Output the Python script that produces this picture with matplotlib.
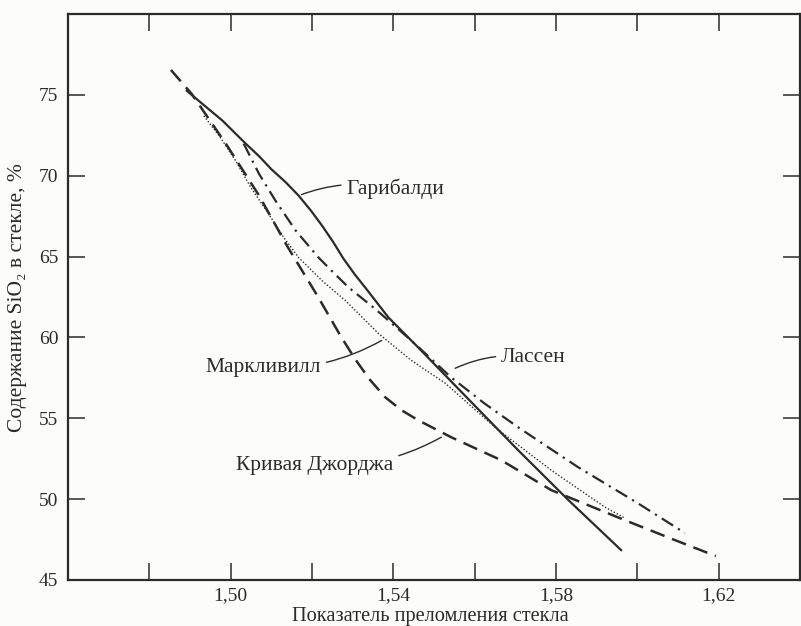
import matplotlib
matplotlib.use("Agg")
from matplotlib import pyplot as plt

plt.rcParams['font.family'] = ['Liberation Serif', 'DejaVu Serif']

# Refractive index of glass vs SiO2 content, four calibration curves.
garibaldi_n = [1.4892, 1.4930, 1.4980, 1.5037, 1.5070, 1.5100, 1.5135, 1.5167,
               1.5197, 1.5225, 1.5252, 1.5277, 1.5305, 1.5335, 1.5388, 1.5461,
               1.5580, 1.5707, 1.5830, 1.5960]
garibaldi_si = [75.25, 74.45, 73.40, 71.98, 71.20, 70.40, 69.60, 68.77,
                67.85, 66.90, 65.90, 64.88, 63.90, 62.95, 61.23, 59.38,
                56.30, 53.02, 49.95, 46.85]

lassen_n = [1.5032, 1.5070, 1.5110, 1.5160, 1.5216, 1.5255, 1.5290, 1.5356,
            1.5444, 1.5542, 1.5625, 1.5707, 1.5854, 1.6001, 1.6117]
lassen_si = [71.98, 70.10, 68.46, 66.60, 64.94, 63.95, 63.09, 61.75,
             59.81, 57.53, 55.90, 54.44, 51.98, 49.75, 47.90]

markleeville_n = [1.4934, 1.4975, 1.5012, 1.5050, 1.5093, 1.5130, 1.5167,
                  1.5225, 1.5282, 1.5363, 1.5444, 1.5528, 1.5650, 1.5788,
                  1.5920, 1.5969]
markleeville_si = [73.70, 72.35, 70.93, 69.25, 67.65, 66.20, 64.94,
                   63.50, 62.28, 60.25, 58.58, 57.16, 54.44, 51.79,
                   49.51, 48.83]

george_n = [1.4853, 1.4904, 1.4988, 1.5069, 1.5140, 1.5215, 1.5270, 1.5305,
            1.5340, 1.5380, 1.5420, 1.5461, 1.5542, 1.5665, 1.5788, 1.5969,
            1.6092, 1.6193]
george_si = [76.54, 75.06, 71.98, 68.80, 65.60, 62.50, 60.10, 58.70,
             57.45, 56.30, 55.50, 54.88, 53.83, 52.41, 50.56, 48.70,
             47.47, 46.48]

x_ticks = [1.48, 1.50, 1.52, 1.54, 1.56, 1.58, 1.60, 1.62]
x_tick_labels = ['', '1,50', '', '1,54', '', '1,58', '', '1,62']
y_ticks = [45, 50, 55, 60, 65, 70, 75]

ink = '#2b2b2b'

fig = plt.figure(figsize=(8.01, 6.26), dpi=100, facecolor='#fcfcfa')
ax = fig.add_axes([0.0849, 0.0735, 0.9139, 0.9042])
ax.set_facecolor('#fcfcfa')

ax.plot(garibaldi_n, garibaldi_si, color=ink, lw=1.6, ls='-')
ax.plot(lassen_n, lassen_si, color=ink, lw=1.6, ls=(0, (6, 2.6, 1, 2.6)))
ax.plot(markleeville_n, markleeville_si, color=ink, lw=1.0, ls=(0, (1, 1.4)))
ax.plot(george_n, george_si, color=ink, lw=1.8, ls=(0, (6, 3.2)))

ax.set_xlim(1.46, 1.64)
ax.set_ylim(45, 80)
ax.set_xticks(x_ticks)
ax.set_xticklabels(x_tick_labels)
ax.set_yticks(y_ticks)
ax.tick_params(direction='in', length=12, width=1.1, color=ink,
               top=True, right=True, labelsize=14, labelcolor=ink)
ax.tick_params(axis='x', pad=5)
ax.tick_params(axis='y', pad=7)
for s in ax.spines.values():
    s.set_linewidth(1.6)
    s.set_color(ink)

# curve labels with curved leader lines
leader = dict(arrowstyle='-', color=ink, lw=1.0, shrinkA=2, shrinkB=0)
ax.annotate('Гарибалди', xy=(1.5174, 68.83), xytext=(1.5285, 69.2),
            ha='left', va='center', fontsize=15.5, color=ink,
            arrowprops=dict(leader, connectionstyle='arc3,rad=0.15'))
ax.annotate('Лассен', xy=(1.5552, 58.09), xytext=(1.5665, 58.77),
            ha='left', va='center', fontsize=15.5, color=ink,
            arrowprops=dict(leader, connectionstyle='arc3,rad=0.15'))
ax.annotate('Маркливилл', xy=(1.5371, 59.81), xytext=(1.5222, 58.15),
            ha='right', va='center', fontsize=15.5, color=ink,
            arrowprops=dict(leader, connectionstyle='arc3,rad=0.15'))
ax.annotate('Кривая Джорджа', xy=(1.5518, 53.83), xytext=(1.5400, 52.1),
            ha='right', va='center', fontsize=15.5, color=ink,
            arrowprops=dict(leader, connectionstyle='arc3,rad=0.15'))

fig.text(430 / 801, 1 - 617 / 626, 'Показатель преломления стекла',
         ha='center', va='center', fontsize=14.7, color=ink)
fig.text(18 / 801, 1 - 298 / 626, 'Содержание SiO₂ в стекле, %',
         ha='center', va='center', rotation=90, fontsize=15.5, color=ink)

fig.savefig('out.png', dpi=100, facecolor=fig.get_facecolor())
